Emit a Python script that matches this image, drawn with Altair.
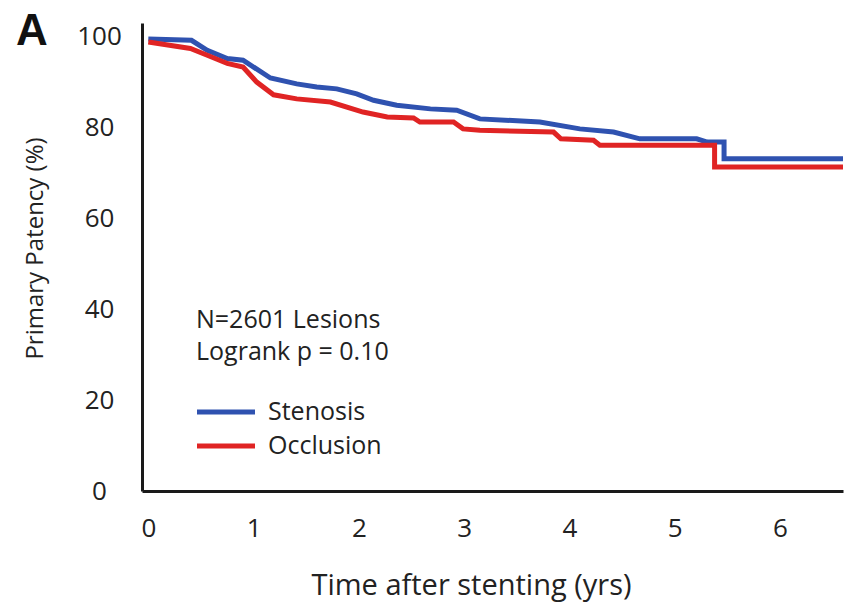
import altair as alt
import pandas as pd

# ---- data ----
groups = ["Stenosis", "Occlusion"]
colors = ["#2F52B0", "#E02424"]

sten_t = [0, 0.41, 0.56, 0.75, 0.90, 1.16, 1.41, 1.60, 1.79, 1.98, 2.14, 2.36, 2.68,
          2.93, 3.15, 3.72, 4.10, 4.42, 4.67, 5.21, 5.31, 5.47, 5.47, 6.6]
sten_v = [99.5, 99.2, 97.0, 95.2, 94.8, 90.9, 89.6, 88.9, 88.5, 87.4, 86.0, 84.9, 84.1,
          83.8, 81.9, 81.2, 79.7, 79.0, 77.5, 77.5, 76.8, 76.8, 73.1, 73.1]

occ_t = [0, 0.40, 0.56, 0.75, 0.90, 1.03, 1.19, 1.41, 1.73, 2.04, 2.27, 2.52, 2.58,
         2.90, 2.99, 3.15, 3.85, 3.92, 4.23, 4.29, 5.38, 5.38, 6.6]
occ_v = [98.8, 97.4, 95.9, 94.1, 93.3, 90.0, 87.2, 86.3, 85.6, 83.4, 82.3, 82.1, 81.2,
         81.2, 79.7, 79.4, 79.0, 77.5, 77.2, 76.1, 76.1, 71.3, 71.3]

x_ticks = [0, 1, 2, 3, 4, 5, 6]
y_ticks = [0, 20, 40, 60, 80, 100]
stats_lines = ["N=2601 Lesions", "Logrank p = 0.10"]
panel_label = ["A"]
x_title = "Time after stenting (yrs)"
y_title = "Primary Patency (%)"

rows = []
for i, (t, v) in enumerate(zip(sten_t, sten_v)):
    rows.append({"group": groups[0], "t": t, "v": v, "idx": i})
for i, (t, v) in enumerate(zip(occ_t, occ_v)):
    rows.append({"group": groups[1], "t": t, "v": v, "idx": i})
df = pd.DataFrame(rows)

FONT = "Open Sans"
TXT = "#222222"
color_scale = alt.Scale(domain=groups, range=colors)

lines = alt.Chart(df).mark_line(strokeWidth=5, clip=True).encode(
    x=alt.X("t:Q",
            scale=alt.Scale(domain=[-0.06, 6.6], nice=False, zero=False),
            axis=alt.Axis(values=x_ticks, title=x_title, format="d",
                          labelPadding=24, titleX=329, titleY=94,
                          titleAlign="center", titleBaseline="middle",
                          titleFontSize=29)),
    y=alt.Y("v:Q",
            scale=alt.Scale(domain=[0, 103], nice=False),
            axis=alt.Axis(values=y_ticks, title=y_title, labelAlign="center",
                          labelPadding=43, titleAngle=-90, titleX=-107, titleY=225,
                          titleAlign="center", titleBaseline="middle",
                          titleFontSize=24)),
    color=alt.Color("group:N", scale=color_scale, legend=None),
    order="idx:Q",
)

layers = [lines]

# panel label
layers.append(
    alt.Chart(pd.DataFrame({"lab": panel_label})).mark_text(
        font="Liberation Sans", fontWeight="bold", fontSize=44, color="#111111",
        align="center", baseline="middle").encode(
        text="lab:N", x=alt.value(-110), y=alt.value(9))
)

# stats annotation
for txt, yy in zip(stats_lines, [297, 329]):
    layers.append(
        alt.Chart(pd.DataFrame({"lab": [txt]})).mark_text(
            font=FONT, fontSize=25, color=TXT, align="left", baseline="middle").encode(
            text="lab:N", x=alt.value(54), y=alt.value(yy))
    )

# manual legend
for g, yy in zip(groups, [389, 423]):
    gdf = pd.DataFrame({"group": [g]})
    layers.append(
        alt.Chart(gdf).mark_rule(strokeWidth=5).encode(
            x=alt.value(55), x2=alt.value(113), y=alt.value(yy),
            color=alt.Color("group:N", scale=color_scale, legend=None))
    )
    layers.append(
        alt.Chart(gdf).mark_text(
            font=FONT, fontSize=25, color=TXT, align="left", baseline="middle").encode(
            text="group:N", x=alt.value(126), y=alt.value(yy))
    )

chart = alt.layer(*layers).properties(
    width=701, height=468,
    padding={"left": 142, "top": 23, "right": 1, "bottom": 112},
    autosize="none",
).configure_view(stroke=None).configure_axis(
    domainColor="#1a1a1a", domainWidth=3, ticks=False, grid=False,
    labelFont=FONT, labelFontSize=26, labelColor=TXT,
    titleFont=FONT, titleColor=TXT, titleFontWeight="normal",
)

chart.save("out.html", embed_options={"renderer": "svg", "actions": False})
